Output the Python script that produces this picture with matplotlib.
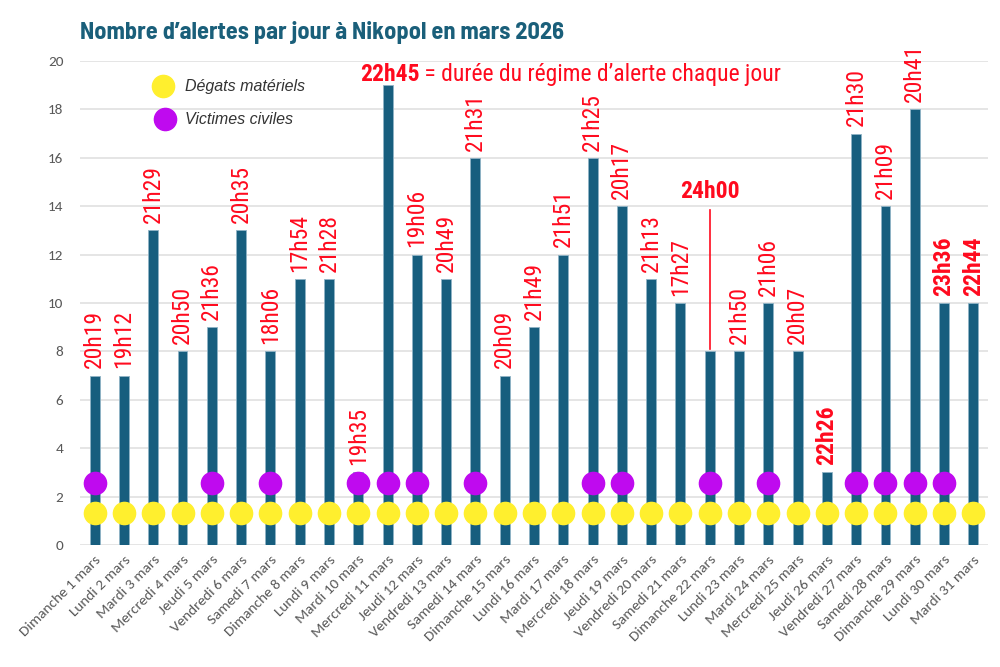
import numpy as np
import matplotlib
matplotlib.use("Agg")
import matplotlib.pyplot as plt

# Données : mars 2026, Nikopol
jours = ["Dimanche 1 mars", "Lundi 2 mars", "Mardi 3 mars", "Mercredi 4 mars", "Jeudi 5 mars",
         "Vendredi 6 mars", "Samedi 7 mars", "Dimanche 8 mars", "Lundi 9 mars", "Mardi 10 mars",
         "Mercredi 11 mars", "Jeudi 12 mars", "Vendredi 13 mars", "Samedi 14 mars", "Dimanche 15 mars",
         "Lundi 16 mars", "Mardi 17 mars", "Mercredi 18 mars", "Jeudi 19 mars", "Vendredi 20 mars",
         "Samedi 21 mars", "Dimanche 22 mars", "Lundi 23 mars", "Mardi 24 mars", "Mercredi 25 mars",
         "Jeudi 26 mars", "Vendredi 27 mars", "Samedi 28 mars", "Dimanche 29 mars", "Lundi 30 mars",
         "Mardi 31 mars"]
alertes = [7, 7, 13, 8, 9, 13, 8, 11, 11, 3, 19, 12, 11, 16, 7, 9, 12, 16, 14, 11,
           10, 8, 8, 10, 8, 3, 17, 14, 18, 10, 10]
durees = ["20h19", "19h12", "21h29", "20h50", "21h36", "20h35", "18h06", "17h54", "21h28", "19h35",
          "22h45", "19h06", "20h49", "21h31", "20h09", "21h49", "21h51", "21h25", "20h17", "21h13",
          "17h27", "24h00", "21h50", "21h06", "20h07", "22h26", "21h30", "21h09", "20h41", "23h36",
          "22h44"]
# durées mises en gras (> 22h)
gras = ["22h26", "23h36", "22h44"]
# jours avec victimes civiles (numéro du jour)
victimes = [1, 5, 7, 10, 11, 12, 14, 18, 19, 22, 24, 27, 28, 29, 30]

NARROW = ["Roboto Condensed", "DejaVu Sans"]
TITRE = ["Barlow Semi Condensed", "DejaVu Sans"]
TICKS = ["Carlito", "Open Sans", "DejaVu Sans"]
BLEU = "#175E7E"
ROUGE = "#FF0A1E"
JAUNE = "#FFEF2E"
VIOLET = "#BF0AEF"

fig = plt.figure(figsize=(10, 6.67), dpi=100)
ax = fig.add_axes([0.08, 0.183, 0.908, 0.7255])

x = np.arange(len(jours))
ax.bar(x, alertes, width=0.34, color=BLEU, edgecolor="#8fb3c6", linewidth=0.6, zorder=2)

# points : dégâts matériels (tous les jours) et victimes civiles
ax.plot(x, np.full(len(x), 1.3), "o", color=JAUNE, markersize=16, zorder=3)
vx = np.array(victimes) - 1
ax.plot(vx, np.full(len(vx), 2.55), "o", color=VIOLET, markersize=16, zorder=3)

# durées au-dessus des barres
for i, (v, d) in enumerate(zip(alertes, durees)):
    if d == "22h45" or d == "24h00":
        continue
    ax.text(i, v + 0.3, d, rotation=90, ha="center", va="bottom", color=ROUGE,
            fontsize=17, family=NARROW, fontweight="bold" if d in gras else "normal")

# 24h00 avec trait
i24 = durees.index("24h00")
ax.plot([i24, i24], [alertes[i24] + 0.1, 13.85], color=ROUGE, lw=1.2, zorder=1)
ax.text(i24, 14.15, "24h00", ha="center", va="bottom", color=ROUGE, fontsize=17,
        family=NARROW, fontweight="bold")

# note 22h45
i45 = durees.index("22h45")
t = ax.text(i45 - 0.95, 19.45, "22h45", ha="left", va="center", color=ROUGE, fontsize=17,
            family=NARROW, fontweight="bold")
ax.annotate(" = durée du régime d’alerte chaque jour", xycoords=t, xy=(1, 0.5),
            ha="left", va="center", color=ROUGE, fontsize=17, family=NARROW)

# légende
ax.plot([2.35], [18.95], "o", color=JAUNE, markersize=16, clip_on=False)
ax.plot([2.4], [17.6], "o", color=VIOLET, markersize=16, clip_on=False)
ax.text(3.1, 18.95, "Dégats matériels", ha="left", va="center", color="#333333",
        fontsize=11.5, style="italic", family="Liberation Sans")
ax.text(3.1, 17.6, "Victimes civiles", ha="left", va="center", color="#333333",
        fontsize=11.5, style="italic", family="Liberation Sans")

ax.set_xlim(-0.5, len(jours) - 0.5)
ax.set_ylim(0, 20)
ax.set_yticks(range(0, 21, 2))
ax.set_xticks(x)
ax.set_xticklabels(jours, rotation=45, ha="right", rotation_mode="anchor",
                   fontsize=11, color="#595959", family=TICKS)
ax.tick_params(axis="y", labelsize=11, labelcolor="#595959", length=0, pad=12)
ax.tick_params(axis="x", length=0, pad=6)
for lbl in ax.get_yticklabels():
    lbl.set_family(TICKS)
ax.grid(axis="y", color="#e0e0e0", lw=1.2, zorder=0)
ax.set_axisbelow(True)
for s in ax.spines.values():
    s.set_visible(False)

fig.text(0.08, 0.952, "Nombre d’alertes par jour à Nikopol en mars 2026", ha="left", va="center",
         color="#1A5F7A", fontsize=17.5, fontweight="bold", family=TITRE)

fig.savefig("out.png", dpi=100)
